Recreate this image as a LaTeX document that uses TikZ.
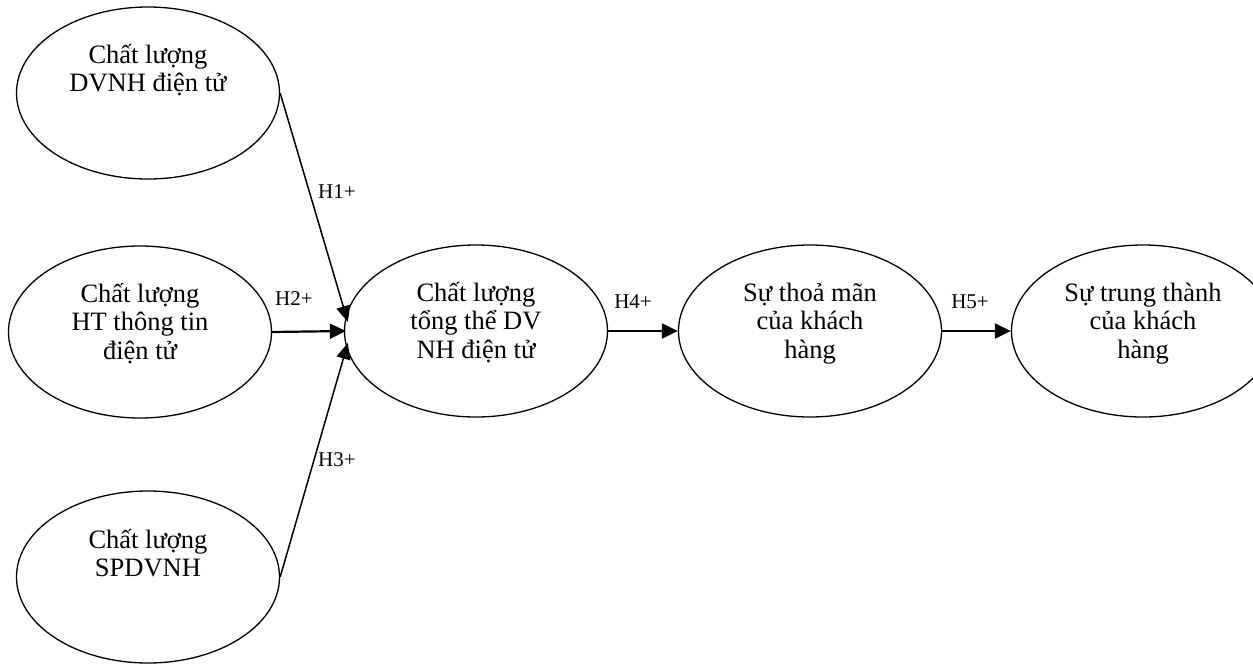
\documentclass[tikz,border=0pt]{standalone}
\usepackage{fontspec}
\setmainfont{Liberation Serif}
\usetikzlibrary{shapes.geometric,arrows.meta}
\begin{document}
\begin{tikzpicture}[x=1pt,y=-1pt,
  construct/.style={draw,ellipse,line width=1.3pt,minimum width=263pt,minimum height=172pt,inner sep=0pt},
  ctext/.style={anchor=base,inner sep=0pt,font=\fontsize{26.5}{28.8}\selectfont},
  hyp/.style={inner sep=0pt,font=\fontsize{21}{24}\selectfont},
  link/.style={line width=1.5pt,-{Triangle[length=16pt,width=14pt]}},
  hlink/.style={line width=2.2pt,-{Triangle[length=16pt,width=15pt]}}]
\useasboundingbox (0,0) rectangle (1253,664);
\clip (0,0) rectangle (1253,664);
\node[construct] (e1) at (148,93) {};
\node[construct] (e2) at (140,332) {};
\node[construct] (e3) at (148,577) {};
\node[construct] (e4) at (476,331) {};
\node[construct] (e5) at (810,331) {};
\node[construct] (e6) at (1143,331) {};
\node[ctext] (t1) at (148,63) {\begin{tabular}[t]{@{}c@{}}Chất lượng\\DVNH điện tử\end{tabular}};
\node[ctext] (t2) at (140,302) {\begin{tabular}[t]{@{}c@{}}Chất lượng\\HT thông tin\\điện tử\end{tabular}};
\node[ctext] (t3) at (148,548) {\begin{tabular}[t]{@{}c@{}}Chất lượng\\SPDVNH\end{tabular}};
\node[ctext] (t4) at (476,301) {\begin{tabular}[t]{@{}c@{}}Chất lượng\\tổng thể DV\\NH điện tử\end{tabular}};
\node[ctext] (t5) at (810,301) {\begin{tabular}[t]{@{}c@{}}Sự thoả mãn\\của khách\\hàng\end{tabular}};
\node[ctext] (t6) at (1143,301) {\begin{tabular}[t]{@{}c@{}}Sự trung thành\\của khách\\hàng\end{tabular}};
\coordinate (in1) at ([xshift=4pt,yshift=9pt]e4.west);
\coordinate (in3) at ([xshift=4pt,yshift=-12pt]e4.west);
\draw[link] (e1.east) -- (in1);
\draw[hlink] (e2.east) -- ([xshift=2pt]e4.west);
\draw[link] (e3.east) -- (in3);
\draw[hlink] (e4.east) -- (e5.west);
\draw[hlink] (e5.east) -- (e6.west);
\node[hyp] (h1) at (337,192) {H1+};
\node[hyp] (h2) at (294,299) {H2+};
\node[hyp] (h3) at (337,460) {H3+};
\node[hyp] (h4) at (633,302) {H4+};
\node[hyp] (h5) at (970,302) {H5+};
\end{tikzpicture}
\end{document}
